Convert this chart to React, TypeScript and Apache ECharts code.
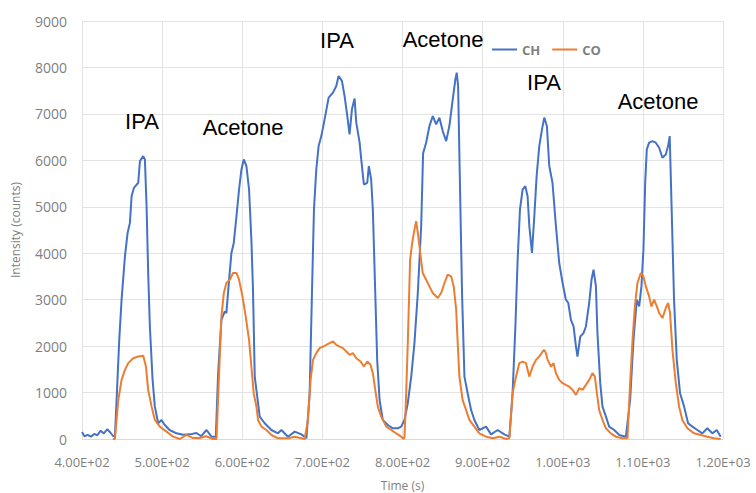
import React, { useEffect, useRef } from "react";
import * as echarts from "echarts";

// Time (s), intensity (counts)
const chData: [number, number][] = [
  [400, 150], [403, 60], [407.1, 90], [411.1, 50], [415.2, 110], [419.2, 80], [423.3, 180], [427.3, 120], [431.4, 210], [435.4, 140], [438.5, 70], [441.1, 50],
  [446.5, 2136], [449.4, 3000], [453.6, 3934], [456.9, 4437], [459.8, 4653], [461.9, 5228], [464.8, 5409], [470.2, 5517], [472.3, 5983], [476.4, 6091], [478.5, 6020], [480.6, 5012], [482.6, 3575], [484.7, 2423], [488.1, 1273], [490.9, 697], [495.1, 339], [499.2, 410], [503.3, 300], [509.3, 194], [518, 122], [526.3, 90], [534.7, 100], [542.8, 130], [548.8, 60], [555.4, 194], [561.6, 50], [567, 50],
  [569.9, 1417], [574, 2567], [578.2, 2747], [580.2, 2710], [583.6, 3430], [586.5, 4006], [589.4, 4222], [592.8, 4797], [596, 5372], [599, 5803], [601.9, 6020], [605.2, 5875], [608.5, 5372], [611.4, 4293], [613.4, 3215], [615.6, 1344], [621.8, 481], [628, 339], [636.4, 194], [644.6, 122], [648.8, 194], [657.1, 50], [665.5, 158], [673.8, 100], [680.1, 15],
  [684.1, 986], [687, 3143], [689.5, 4940], [692.4, 5803], [695.3, 6307], [698.7, 6522], [702.8, 6882], [707.8, 7350], [713.2, 7458], [717.4, 7601], [720.2, 7817], [724.4, 7710], [727.7, 7386], [731.1, 6954], [733.9, 6559], [736.9, 7098], [740.2, 7329], [742.3, 6811], [746.5, 6380], [748.5, 6019], [751.8, 5480], [756, 5517], [758, 5875], [760.9, 5588], [763, 4940], [766, 3143], [768.4, 1704], [771.4, 840], [775.4, 410], [781.7, 302], [787.9, 230], [794.2, 230], [798.3, 266], [802.5, 410],
  [806.6, 770], [810.9, 1344], [814.9, 2065], [819.1, 3143], [823.3, 4581], [825.7, 6150], [829.5, 6380], [833.6, 6738], [837.8, 6954], [842, 6775], [846.1, 6919], [850.2, 6630], [854.5, 6414], [858.5, 6738], [862.7, 7314], [866, 7745], [867.7, 7889], [869.4, 7601], [871.9, 5301], [874.3, 3143], [877.3, 1344], [881.3, 986], [885.6, 626], [889.7, 410], [895.9, 194], [904.3, 266], [910.5, 100], [918.8, 194], [927.1, 100], [933.4, 50],
  [937.4, 986], [940.9, 2423], [943.7, 3862], [946.6, 4940], [949.9, 5372], [953.3, 5444], [956.1, 5228], [958.3, 4581], [961.6, 4006], [964.5, 4797], [967.4, 5659], [970.7, 6307], [974.1, 6667], [976.9, 6919], [980.2, 6738], [983.2, 5875], [987.2, 5517], [991.5, 4581], [995.6, 3790], [999.8, 3359], [1003.9, 2999], [1006.9, 2928], [1010.2, 2567], [1013.5, 2423], [1016.5, 1991], [1018.4, 1776], [1021.9, 2207], [1025.9, 2279], [1028.9, 2423], [1033, 2928], [1035.9, 3430], [1038.4, 3646], [1041.4, 3286], [1043.3, 2279], [1046.8, 1202], [1049.6, 697], [1053.9, 481], [1057.9, 266], [1064.2, 194], [1070.5, 86], [1078.8, 50],
  [1084.1, 840], [1088.3, 2136], [1092.4, 3000], [1095.4, 2855], [1098.2, 3286], [1100.7, 4078], [1102.9, 5517], [1104.9, 6235], [1107.8, 6380], [1112, 6414], [1116.1, 6380], [1120.3, 6271], [1124.4, 6056], [1128.6, 6127], [1131.5, 6307], [1133.5, 6522], [1135.6, 5156], [1138.9, 3000], [1142.3, 1704], [1146.4, 986], [1151.5, 697], [1156.4, 339], [1161.8, 266], [1168, 194], [1174.2, 122], [1180.4, 230], [1186.7, 122], [1192.2, 194], [1197.1, 50],
];

const coData: [number, number][] = [
  [438.5, 0], [441.1, 0], [445.3, 840], [449.4, 1273], [453.6, 1489], [457.7, 1633], [463.9, 1740], [470.2, 1776], [476.4, 1790], [479.8, 1560], [482.6, 1057], [486.9, 697], [490.9, 410], [497.2, 266], [505.5, 158], [513.8, 50], [522.1, 0], [530.4, 90], [538.7, 20], [547.1, 20], [554.9, 60], [563.6, 0],
  [567.9, 0], [571.1, 1417], [574, 2639], [577, 3143], [580.2, 3359], [584.5, 3430], [588.5, 3575], [592.8, 3575], [596, 3430], [600.3, 3071], [604.3, 2639], [608.5, 2136], [611.4, 1560], [614.3, 986], [617.7, 697], [619.7, 410], [624, 266], [630.1, 194], [636.4, 86], [644.6, 15], [657.1, 15], [665.5, 50], [677.9, 0],
  [682, 410], [685.3, 1273], [688.3, 1704], [692.4, 1848], [696.6, 1956], [700.7, 1991], [705, 2028], [709, 2065], [713.2, 2100], [717.4, 2028], [721.5, 1991], [725.6, 1956], [729.9, 1884], [733.9, 1812], [738.1, 1848], [742.3, 1740], [747.7, 1668], [751.8, 1560], [756, 1668], [760.1, 1597], [763, 1417], [766, 1057], [769.2, 697], [773.4, 481], [779.7, 266], [786, 194], [792.1, 122], [798.3, 50], [801.6, 0],
  [802.5, 50], [804.6, 986], [806.6, 2065], [809.5, 3862], [812.1, 4222], [814.9, 4509], [817, 4689], [819.2, 4437], [822.1, 4006], [825.2, 3575], [829.5, 3430], [833.6, 3286], [837.8, 3143], [844, 3035], [848.2, 3143], [852.4, 3359], [856.4, 3538], [860.7, 3502], [863.9, 3286], [867, 2783], [868.9, 2065], [871, 1344], [875, 841], [879.3, 626], [883.5, 410], [889.7, 266], [895.9, 122], [904.3, 50], [912.6, 15], [920.9, 50], [929.3, 0], [933.4, 15],
  [937.4, 986], [941.7, 1344], [945.8, 1633], [949.9, 1668], [954.1, 1633], [958.3, 1344], [962.4, 1560], [966.6, 1704], [970.7, 1776], [974.9, 1884], [976.9, 1920], [979, 1848], [981.1, 1704], [985.3, 1560], [988.5, 1633], [991.5, 1417], [995.6, 1273], [999.8, 1202], [1003.9, 1165], [1008.1, 1129], [1012.2, 1057], [1016.5, 949], [1020.5, 1094], [1024.7, 1057], [1028.9, 1165], [1033, 1273], [1037.1, 1417], [1040.1, 1345], [1042.6, 986], [1045.4, 626], [1049.6, 410], [1053.9, 230], [1060, 122], [1066.2, 50], [1074.6, 15], [1080.8, 15],
  [1084.1, 1202], [1087.1, 2136], [1090, 2855], [1093.2, 3359], [1097.4, 3575], [1100.6, 3502], [1103.7, 3286], [1107.8, 3071], [1110.7, 2855], [1114, 3000], [1117.4, 2855], [1120.3, 2712], [1124.4, 2604], [1128.6, 2820], [1131.5, 2928], [1133.9, 2712], [1136.9, 1920], [1141.1, 1202], [1145.2, 697], [1149.3, 410], [1155.6, 230], [1163.9, 122], [1172.2, 86], [1180.4, 50], [1188.7, 15], [1197.1, 0],
];

const seriesNames = ["CH", "CO"];
const annotations = ["IPA", "Acetone", "IPA", "Acetone", "IPA", "Acetone"];
const annotationPos: [number, number][] = [
  [142, 121], [243, 127], [337, 40], [443, 39], [544, 82], [658, 101],
];

const fmtExp = (v: number) => {
  const [m, e] = v.toExponential(2).split("e");
  const sign = e[0];
  const digits = e.slice(1).padStart(2, "0");
  return m + "E" + sign + digits;
};

export default function App() {
  const ref = useRef<HTMLDivElement>(null);
  useEffect(() => {
    if (!ref.current) return;
    const chart = echarts.init(ref.current, undefined, { renderer: "svg" });
    const labelFont = "'Open Sans', sans-serif";
    chart.setOption({
      animation: false,
      backgroundColor: "#ffffff",
      grid: { left: 82, right: 33, top: 21, bottom: 54, containLabel: false, outerBoundsMode: "none" },
      legend: {
        data: seriesNames,
        left: 487,
        top: 38,
        icon: "rect",
        itemWidth: 25,
        itemHeight: 2,
        itemGap: 12,
        textStyle: { color: "#7f7f7f", fontWeight: "bold", fontSize: 13, fontFamily: labelFont },
      },
      xAxis: {
        type: "value",
        min: 400,
        max: 1200,
        interval: 100,
        name: "Time (s)",
        nameLocation: "middle",
        nameGap: 40,
        nameTextStyle: { color: "#7f7f7f", fontSize: 12, fontFamily: labelFont },
        axisLine: { show: true, lineStyle: { color: "#d9d9d9" } },
        axisTick: { show: false },
        axisLabel: { color: "#7f7f7f", fontSize: 13, fontFamily: labelFont, margin: 16, formatter: fmtExp },
        splitLine: { show: true, lineStyle: { color: "#e3e3e3" } },
      },
      yAxis: {
        type: "value",
        min: 0,
        max: 9000,
        interval: 1000,
        name: "Intensity (counts)",
        nameLocation: "middle",
        nameGap: 61,
        nameRotate: 90,
        nameTextStyle: { color: "#7f7f7f", fontSize: 12, fontFamily: labelFont },
        axisLine: { show: false },
        axisTick: { show: false },
        axisLabel: { color: "#7f7f7f", fontSize: 14, fontFamily: labelFont, margin: 15, formatter: (v: number) => String(v) },
        splitLine: { show: true, lineStyle: { color: "#e3e3e3" } },
      },
      series: [
        {
          name: seriesNames[0],
          type: "line",
          data: chData,
          showSymbol: false,
          lineStyle: { color: "#4472C4", width: 2 },
          itemStyle: { color: "#4472C4" },
        },
        {
          name: seriesNames[1],
          type: "line",
          data: coData,
          showSymbol: false,
          lineStyle: { color: "#ED7D31", width: 2 },
          itemStyle: { color: "#ED7D31" },
        },
      ],
      graphic: annotations.map((t, i) => ({
        type: "text",
        x: annotationPos[i][0],
        y: annotationPos[i][1],
        z: 100,
        style: {
          text: t,
          fill: "#000000",
          fontSize: 22,
          fontFamily: "'Liberation Sans', Arial, sans-serif",
          textAlign: "center",
          textVerticalAlign: "middle",
        },
      })),
    });
    return () => chart.dispose();
  }, []);
  return <div ref={ref} style={{ width: 756, height: 493, position: "absolute", left: 0, top: 0 }} />;
}
